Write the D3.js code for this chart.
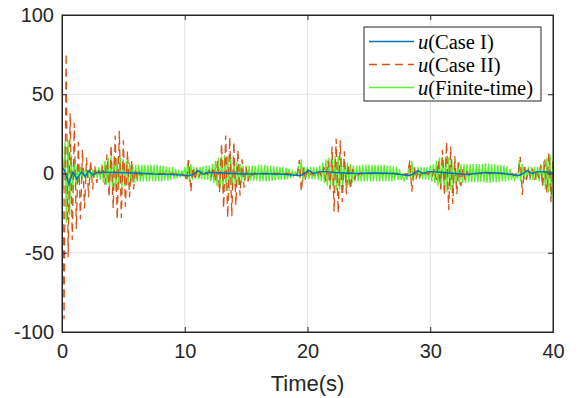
<!DOCTYPE html>
<html>
<head>
<meta charset="utf-8">
<title>Control input u</title>
<style>
  body { margin: 0; background: #fff; }
  .axis text { font-family: "Liberation Sans", Arial, sans-serif; font-size: 20px; fill: #262626; }
  .axis path, .axis line { stroke: #262626; }
</style>
</head>
<body>
<script src="https://d3js.org/d3.v7.min.js"></script>
<script>
// axis ticks
var xTicks = [0, 10, 20, 30, 40];
var yTicks = [-100, -50, 0, 50, 100];
var seriesNames = ["Case I", "Case II", "Finite-time"];

// u(Case I): smooth, read point by point [time, value]
var caseOneTime = [0, 0.2, 0.55, 0.9, 1.2, 1.6, 1.9, 2.2, 2.5, 2.9, 3.5, 4.5, 6, 7.5, 9, 9.8,
  10.3, 10.7, 11.1, 11.5, 11.9, 12.3, 13.5, 15, 16.5, 18, 19.3, 19.6, 20.1, 20.5, 21, 21.5,
  22.5, 24, 25.5, 27, 28.2, 28.5, 29, 29.4, 29.8, 30.5, 31.5, 33, 34.5, 36, 37.1, 37.4,
  37.9, 38.3, 38.7, 39.3, 40];
var caseOneValue = [4, 2, -6.5, 1, -3.5, 1, -2, 1.8, -0.8, 0.8, 0.8, 0.6, 0.3, -0.3, -0.6, -1,
  -1.5, -0.5, 1.8, -0.5, 0.8, 0.6, 0.2, -0.3, -0.2, -0.5, -1.3, -0.8, 2, 0, 1.2, 1.2,
  0.5, 0, 0.3, 0, -1.3, -0.8, 1.8, 0, 1.2, 1, 0.3, -0.6, 0.6, 0, -1.3, -0.8,
  1.8, 0, 1.2, 1, 0.6];

// u(Case II): successive extrema, one every 1/6 s (one row per second)
var caseTwoStep = 1 / 6;
var caseTwoValue = [
  50, -92, 76, -53, 38, -42,
  32, -35, 20, -29, 15, -22,
  10, -15, 8, -10, 5, -6,
  2, -2, 5, -7, 12, -15,
  18, -22, 24, -29, 27, -28,
  21, -21, 14, -15, 8, -10,
  3, -4, 1, -1, 0.5, -0.5,
  0.3, -0.3, 0.3, -0.3, 0.3, -0.3,
  0.2, -0.4, 0.2, -0.4, 0.2, -0.4,
  0, -0.6, 0, -0.8, 0, -1,
  -1, -5, 8.5, -11.5, 4, -4,
  2, -2, 1, -1, 0.5, -0.5,
  2, -2, 4, -5, 8, -12,
  19, -22, 24, -28, 23, -27,
  20, -20, 15, -14, 9, -9,
  4, -5, 1, -1, 0.5, -0.5,
  0.3, -0.3, 0.3, -0.3, 0.3, -0.3,
  0.3, -0.3, 0.3, -0.3, 0.3, -0.3,
  0.2, -0.4, 0.2, -0.4, 0, -0.6,
  0, -1, 8.5, -11.5, 4, -4,
  2, -2, 1, -1, 0.5, -0.5,
  1, -2, 4, -5, 8, -10,
  17, -24, 22, -25, 21, -18,
  14, -13, 6, -10, 3, -4,
  1, -1, 0.5, -0.5, 0.3, -0.3,
  0.3, -0.3, 0.3, -0.3, 0.3, -0.3,
  0.3, -0.3, 0.3, -0.3, 0.3, -0.3,
  0.2, -0.4, 0.2, -0.4, 0, -0.8,
  0, -1, 8.5, -11.5, 4, -4,
  2, -2, 1, -1, 0.5, -0.5,
  1, -2, 3, -4, 8, -10,
  15, -14, 20, -23, 17, -19,
  11, -13, 7, -8, 3, -4,
  1, -1, 0.5, -0.5, 0.3, -0.3,
  0.3, -0.3, 0.3, -0.3, 0.3, -0.3,
  0.3, -0.3, 0.3, -0.3, 0.3, -0.3,
  0.2, -0.4, 0.2, -0.6, 0, -1,
  0, -1, 10.5, -13.5, 4, -4,
  2, -2, 3, -4, 2, -3,
  5, -8, 9, -12, 13, -18,
  10];

// u(Finite-time): successive extrema, one every 1/8 s (one row per second)
var finiteStep = 1 / 8;
var finiteValue = [
  22, -10, 20, -31, 21, -26, 12, -10,
  8, -8, 5, -6, 4, -4, 3, -3,
  3, -3, 3, -3, 2.5, -2.5, 3, -3,
  4, -4, 6, -6, 8, -7, 10, -9,
  11, -10, 11, -11, 10, -10, 10, -9,
  9, -8, 8, -7, 7, -6, 6, -6,
  5.5, -5, 5.5, -5, 5.5, -5, 5.5, -5,
  5.5, -5, 5.5, -5, 5.5, -5, 5.5, -5,
  5, -5, 5, -4.5, 4.5, -4.5, 4, -4,
  4, -3.5, 3, -3, 2.5, -2.5, 2, -2,
  4, -3, 8.5, -5, 6, -4, 4, -3.5,
  4, -3.5, 4, -3.5, 4.5, -4, 5, -4,
  5, -5, 6, -6, 8, -8, 10, -9,
  11, -10, 11.5, -11, 11, -11, 10, -10,
  9, -8, 7, -7, 6, -6, 5, -5,
  5, -4.5, 5, -4.5, 5, -4.5, 5, -4.5,
  5.5, -5, 5.5, -5, 5.5, -5, 5, -5,
  5, -4.5, 4.5, -4.5, 4.5, -4, 4, -4,
  4, -4, 3.5, -3.5, 3, -3, 1.5, -1.5,
  1, -1, 5, -3, 9, -5, 4, -3,
  4, -3.5, 4, -3.5, 4, -3.5, 4, -4,
  5, -5, 7, -6, 9, -8, 10, -9,
  11, -10, 11.5, -10.5, 11, -10, 10, -10,
  9, -8, 7, -7, 6, -6, 5, -5,
  5, -5, 5, -5, 5.5, -5, 5.5, -5,
  5.5, -5, 5.5, -5, 5.5, -5, 5.5, -5,
  5.5, -5, 5.5, -5, 5, -5, 5, -5,
  4.5, -4.5, 4, -4, 3, -4, -1, -5,
  -1, -4, 5, -3, 8, -5, 4, -3,
  4, -3.5, 4, -3.5, 4, -4, 4, -4,
  5, -5, 6, -6, 8, -8, 10, -10,
  10.5, -11, 10.5, -11.5, 10, -10.5, 9, -9,
  8, -8, 7, -7, 6, -6, 6, -6,
  6, -5.5, 6, -5.5, 6, -5.5, 6, -5.5,
  6, -5.5, 6, -5.5, 6.5, -6, 6.5, -6,
  6, -5.5, 6, -5.5, 5.5, -5.5, 5.5, -5,
  5, -5, 4.5, -4.5, 3, -4, 0, -4,
  -1, -3, 8.5, -5, 6, -4, 4, -3,
  4, -4, 4, -4, 4, -4, 4, -5,
  6, -7, 8, -10, 10, -12, 12, -16,
  8];

var colors = ["#0072BD", "#D95319", "#5CF033"];

// plot box
var margin = { top: 15, right: 28, bottom: 66, left: 62 },
  width = 581 - margin.left - margin.right,
  height = 398 - margin.top - margin.bottom;

var svg = d3.select("body")
  .append("svg")
  .attr("width", 581)
  .attr("height", 398)
  .style("display", "block");

var g = svg.append("g")
  .attr("transform", "translate(" + margin.left + "," + margin.top + ")");

var x = d3.scaleLinear().domain([0, 40]).range([0, width]);
var y = d3.scaleLinear().domain([-100, 100]).range([height, 0]);

// grid
g.append("g").selectAll("line")
  .data(xTicks.slice(1, -1))
  .enter().append("line")
  .attr("x1", function (d) { return x(d); }).attr("x2", function (d) { return x(d); })
  .attr("y1", 0).attr("y2", height)
  .attr("stroke", "#e4e4e4");
g.append("g").selectAll("line")
  .data(yTicks.slice(1, -1))
  .enter().append("line")
  .attr("y1", function (d) { return y(d); }).attr("y2", function (d) { return y(d); })
  .attr("x1", 0).attr("x2", width)
  .attr("stroke", "#e4e4e4");

g.append("clipPath").attr("id", "clip")
  .append("rect").attr("width", width).attr("height", height);

var lines = g.append("g").attr("clip-path", "url(#clip)");

var stepLine = function (step) {
  return d3.line()
    .x(function (d, i) { return x(i * step); })
    .y(function (d) { return y(d); });
};

// Finite-time
lines.append("path")
  .datum(finiteValue)
  .attr("d", stepLine(finiteStep))
  .attr("fill", "none")
  .attr("stroke", colors[2])
  .attr("stroke-width", 1.3);

// Case II
lines.append("path")
  .datum(caseTwoValue)
  .attr("d", stepLine(caseTwoStep))
  .attr("fill", "none")
  .attr("stroke", colors[1])
  .attr("stroke-width", 1.3)
  .attr("stroke-dasharray", "8,5");

// Case I
lines.append("path")
  .datum(caseOneTime.map(function (t, i) { return [t, caseOneValue[i]]; }))
  .attr("d", d3.line()
    .x(function (d) { return x(d[0]); })
    .y(function (d) { return y(d[1]); }))
  .attr("fill", "none")
  .attr("stroke", colors[0])
  .attr("stroke-width", 1.4);

// axes, ticks pointing inward on all four sides, plain hyphen minus
var plain = function (d) { return String(d); };
g.append("g")
  .attr("class", "axis")
  .attr("transform", "translate(0," + height + ")")
  .call(d3.axisBottom(x).tickValues(xTicks).tickFormat(plain).tickSizeInner(-5).tickSizeOuter(0).tickPadding(12));
g.append("g")
  .attr("class", "axis")
  .call(d3.axisLeft(y).tickValues(yTicks).tickFormat(plain).tickSizeInner(-5).tickSizeOuter(0).tickPadding(8));
g.append("g")
  .attr("class", "axis")
  .call(d3.axisTop(x).tickValues(xTicks).tickSizeInner(-5).tickSizeOuter(0).tickFormat(""));
g.append("g")
  .attr("class", "axis")
  .attr("transform", "translate(" + width + ",0)")
  .call(d3.axisRight(y).tickValues(yTicks).tickSizeInner(-5).tickSizeOuter(0).tickFormat(""));

g.append("rect")
  .attr("width", width).attr("height", height)
  .attr("fill", "none").attr("stroke", "#262626");

// x label
svg.append("text")
  .attr("x", margin.left + width / 2)
  .attr("y", 391)
  .attr("text-anchor", "middle")
  .style("font-family", "'Liberation Sans', Arial, sans-serif")
  .style("font-size", "22px")
  .style("fill", "#262626")
  .text("Time(s)");

// legend
var legend = svg.append("g").attr("transform", "translate(364,27)");
legend.append("rect")
  .attr("width", 177).attr("height", 74)
  .attr("fill", "#fff").attr("stroke", "#262626");

var rows = legend.selectAll(".row")
  .data(seriesNames)
  .enter().append("g")
  .attr("class", "row")
  .attr("transform", function (d, i) { return "translate(0," + (14.5 + i * 23) + ")"; });

rows.append("line")
  .attr("x1", 5).attr("x2", 50)
  .attr("stroke", function (d, i) { return colors[i]; })
  .attr("stroke-width", 1.5)
  .attr("stroke-dasharray", function (d, i) { return i === 1 ? "8,5" : null; });

var label = rows.append("text")
  .attr("x", 54).attr("y", 7)
  .style("font-family", "'Liberation Serif', 'Times New Roman', serif")
  .style("font-size", "20.5px")
  .style("fill", "#000");
label.append("tspan").style("font-style", "italic").text("u");
label.append("tspan").text(function (d) { return "(" + d + ")"; });
</script>
</body>
</html>
